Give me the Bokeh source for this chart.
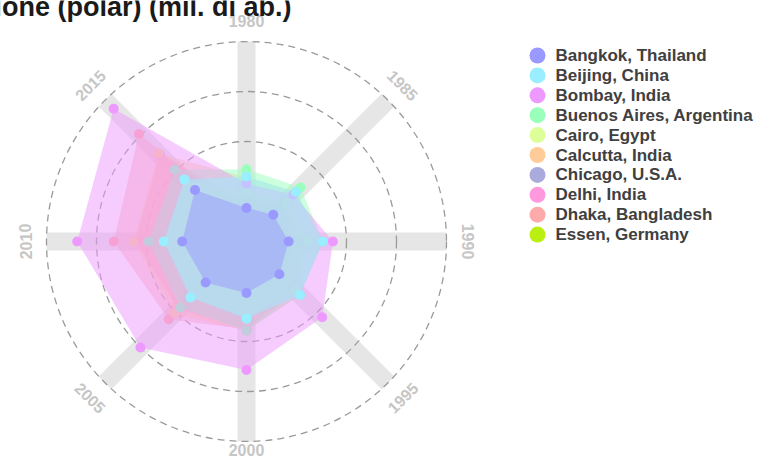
import numpy as np
from bokeh.plotting import figure
from bokeh.models import Range1d
from bokeh.core.properties import value
from bokeh.embed import file_html
from bokeh.resources import INLINE

# ---------------- data (mil. di ab.) ----------------
years = [1980, 1985, 1990, 1995, 2000, 2005, 2010, 2015]
year_labels = [str(y) for y in years]

cities = ["Bangkok, Thailand", "Beijing, China", "Bombay, India",
          "Buenos Aires, Argentina", "Cairo, Egypt", "Calcutta, India",
          "Chicago, U.S.A.", "Delhi, India", "Dhaka, Bangladesh",
          "Essen, Germany"]
colors = ["#9999ff", "#99eeff", "#ee99ff", "#99ffbb", "#ddff99",
          "#ffcc99", "#aaaadd", "#ff99dd", "#ffaaaa", "#bbee11"]

bangkok = [4.7, 5.3, 5.9, 6.5, 7.2, 8.1, 9.0, 10.2]
beijing = [9.1, 9.8, 10.7, 10.6, 10.8, 11.1, 11.6, 12.3]
bombay = [8.1, 9.3, 12.1, 15.0, 18.0, 21.0, 23.7, 26.3]
buenos_aires = [10.1, 10.7, 10.7, 10.6, 12.5, 13.1, 13.7, 14.2]
cairo = [6.9, 7.7, 8.6, 9.7, 10.6, 11.0, 11.5, 12.2]
calcutta = [9.0, 9.8, 10.7, 10.6, 12.5, 14.2, 15.8, 17.4]
chicago = [6.8, 6.8, 6.8, 6.9, 7.0, 7.1, 7.3, 7.5]
delhi = [5.6, 7.3, 8.2, 9.9, 12.3, 13.4, 15.6, 17.2]
dhaka = [3.3, 4.7, 6.6, 9.0, 12.3, 15.4, 18.6, 21.3]
essen = [6.3, 6.3, 6.4, 6.5, 6.5, 6.6, 6.6, 6.6]
series = [bangkok, beijing, bombay, buenos_aires, cairo, calcutta,
          chicago, delhi, dhaka, essen]

grid_values = [14, 21, 28]
r_max = 28
title = "Popolazione (polar) (mil. di ab.)"

# ---------------- layout (pixels) ----------------
W, H = 756, 458
CX, CY = 246, 241          # centre of the polar panel on the canvas
OUTER_PX = 200
k = OUTER_PX / r_max

p = figure(width=W, height=H, output_backend="svg", toolbar_location=None,
           x_range=Range1d(-CX, W - CX), y_range=Range1d(-(H - CY), CY),
           x_axis_location=None, y_axis_location=None, title=None,
           min_border=0, min_border_left=0, min_border_right=0,
           min_border_top=0, min_border_bottom=0)
p.grid.visible = False
p.outline_line_color = None
p.background_fill_color = "white"
p.border_fill_color = "white"

n = len(years)
theta = np.deg2rad(np.arange(n) * 360.0 / n)  # clockwise from top

# spokes (thick gray bars)
p.segment(x0=np.zeros(n), y0=np.zeros(n),
          x1=r_max * k * np.sin(theta), y1=r_max * k * np.cos(theta),
          line_color="#e6e6e6", line_width=18, line_cap="butt")

# dashed grid circles
p.circle(x=[0] * len(grid_values), y=[0] * len(grid_values),
         radius=[g * k for g in grid_values], fill_color=None,
         line_color="#9a9a9a", line_width=1.3, line_dash="7 5")

# series: drawn last-to-first so that Bangkok sits on top
for i in reversed(range(len(cities))):
    r = np.array(series[i]) * k
    xs = r * np.sin(theta)
    ys = r * np.cos(theta)
    p.patch(x=list(xs), y=list(ys), fill_color=colors[i], fill_alpha=0.5,
            line_color=None)
    p.scatter(x=xs, y=ys, size=10, fill_color=colors[i], line_color=None)

# year labels around the circle
lab_r = np.array([221.0] * n)
lab_r[years.index(2000)] = 208.0   # keep the bottom label inside the canvas
angs = []
for t in np.rad2deg(theta):
    a = (-t + 180) % 360 - 180
    if a > 90 or a < -90:
        a = (a + 360) % 360 - 180
    angs.append(np.deg2rad(a))
p.text(x=lab_r * np.sin(theta), y=lab_r * np.cos(theta), text=year_labels,
       angle=angs, text_align="center", text_baseline="middle",
       text_font=value("Liberation Sans"), text_font_style="bold",
       text_font_size="16px", text_color="#c6c6c6")

# legend
leg_x, leg_y0, leg_dy = 291, 186, 19.9
ly = [leg_y0 - i * leg_dy for i in range(len(cities))]
p.scatter(x=[leg_x] * len(cities), y=ly, size=16, fill_color=colors,
          line_color=None)
p.text(x=[leg_x + 18] * len(cities), y=ly, text=cities,
       text_align="left", text_baseline="middle",
       text_font=value("Liberation Sans"), text_font_style="bold",
       text_font_size="17px", text_color="#404040")

# title (partially outside the canvas, as in the original)
p.text(x=[45], y=[235], text=[title], text_align="right",
       text_baseline="alphabetic", text_font=value("Liberation Sans"),
       text_font_style="bold", text_font_size="27px", text_color="#1a1a1a")

open("out.html", "w").write(file_html(p, INLINE))
